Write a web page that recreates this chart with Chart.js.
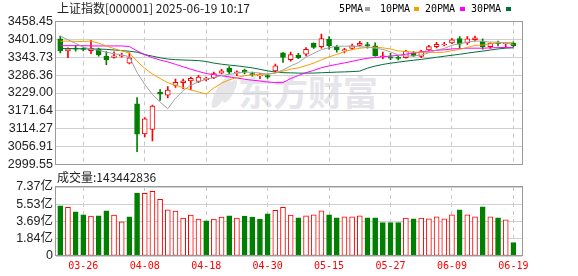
<!DOCTYPE html>
<html><head><meta charset="utf-8">
<script src="https://cdn.jsdelivr.net/npm/chart.js@4.4.1/dist/chart.umd.min.js"></script>
<style>
html,body{margin:0;padding:0;background:#fff;}
#wrap{position:relative;width:578px;height:276px;overflow:hidden;background:#fff;}
canvas{position:absolute;left:0;z-index:2;}
#c1{top:0;}
#c2{top:175px;}
.t{position:absolute;white-space:nowrap;z-index:3;}
.cn{font-family:"Noto Sans CJK SC",sans-serif;font-size:12px;line-height:14px;color:#222;}
.lg{font-family:"DejaVu Sans Mono",monospace;font-size:10px;line-height:12px;color:#000;}
.sq{position:absolute;width:5px;height:4px;z-index:3;}
.wm{position:absolute;z-index:1;color:#e6e6ea;font-family:"Noto Sans CJK SC",sans-serif;font-weight:bold;font-size:35px;line-height:40px;white-space:nowrap;}
.leaf{position:absolute;z-index:1;background:#e6e6ea;border-radius:50%;}
</style>
</head>
<body>
<div id="wrap">
  <div class="leaf" style="left:216px;top:74px;width:11px;height:36px;transform:rotate(28deg);"></div>
  <div class="leaf" style="left:226px;top:78px;width:8px;height:26px;transform:rotate(28deg);"></div>
  <div class="wm" style="left:238px;top:71px;">东方财富</div>
  <canvas id="c1" width="578" height="175"></canvas>
  <canvas id="c2" width="578" height="101"></canvas>
  <div class="t cn" style="left:57px;top:1px;">上证指数[000001] 2025-06-19 10:17</div>
  <div class="t lg" style="left:339px;top:3px;">5PMA</div><div class="sq" style="left:365px;top:7px;background:#a0a0a0;"></div>
  <div class="t lg" style="left:380px;top:3px;">10PMA</div><div class="sq" style="left:414px;top:7px;background:#f5a000;"></div>
  <div class="t lg" style="left:425px;top:3px;">20PMA</div><div class="sq" style="left:460px;top:7px;background:#ff00ff;"></div>
  <div class="t lg" style="left:471px;top:3px;">30PMA</div><div class="sq" style="left:506px;top:7px;background:#00703a;"></div>
  <div class="t cn" id="volText" style="left:57px;top:170px;"></div>
</div>
<script>
const dates = ['03-21','03-24','03-25','03-26','03-27','03-28','03-31','04-01','04-02','04-03',
  '04-07','04-08','04-09','04-10','04-11','04-14','04-15','04-16','04-17','04-18',
  '04-21','04-22','04-23','04-24','04-25','04-28','04-29','04-30','05-06','05-07',
  '05-08','05-09','05-12','05-13','05-14','05-15','05-16','05-19','05-20','05-21',
  '05-22','05-23','05-26','05-27','05-28','05-29','05-30','06-03','06-04','06-05',
  '06-06','06-09','06-10','06-11','06-12','06-13','06-16','06-17','06-18','06-19'];
const open = [3403,3365,3373,3369,3365,3370,3347,3343,3347,3325,
  3194,3098,3112,3231,3222,3253,3262,3268,3266,3272,
  3278,3293,3308,3294,3302,3291,3284,3285,3300,3358,
  3336,3351,3354,3388,3378,3401,3376,3364,3372,3382,
  3384,3380,3345,3345,3343,3342,3358,3346,3367,3378,
  3383,3390,3404,3390,3400,3396,3378,3389,3387,3388];
const high = [3412,3374,3381,3375,3398,3373,3362,3361,3357,3358,
  3214,3150,3190,3240,3250,3274,3274,3280,3286,3280,
  3296,3305,3314,3300,3306,3296,3292,3290,3322,3359,
  3360,3356,3375,3390,3418,3410,3382,3372,3386,3395,
  3392,3390,3360,3356,3347,3366,3362,3366,3382,3392,
  3392,3404,3410,3410,3412,3403,3390,3396,3389,3393];
const low = [3358,3342,3363,3364,3355,3347,3320,3341,3344,3322,
  3041,3088,3075,3205,3213,3247,3243,3239,3262,3268,
  3275,3290,3291,3285,3290,3283,3275,3276,3296,3327,
  3331,3339,3348,3372,3373,3370,3360,3358,3368,3380,
  3373,3347,3339,3336,3335,3341,3346,3342,3364,3374,
  3380,3387,3374,3385,3395,3370,3372,3380,3375,3378];
const close = [3365,3370,3369.9,3368.7,3373,3351,3336,3348,3350,3342,
  3097,3146,3187,3225,3238,3263,3268,3276,3280,3277,
  3291,3300,3296,3297,3296,3288,3287,3280,3316,3343,
  3352,3342,3369,3375,3404,3381,3367,3368,3380,3388,
  3380,3348,3347,3341,3340,3363,3348,3362,3378,3385,
  3386,3400,3386,3403,3406,3378,3388,3387,3389,3381];
const prevClose = 3408.95;
const ma5 = [3411.3,3400.0,3388.1,3376.5,3369.3,3366.5,3359.7,3355.3,3351.6,3345.4,
  3294.6,3256.6,3224.4,3199.4,3178.6,3211.8,3236.2,3254.0,3265.0,3272.8,
  3278.4,3284.8,3288.8,3292.2,3296.0,3295.4,3292.8,3289.6,3293.4,3302.8,
  3315.6,3326.6,3344.4,3356.2,3368.4,3374.2,3379.2,3379.0,3380.0,3376.8,
  3376.6,3372.8,3368.6,3360.8,3351.2,3347.8,3347.8,3350.8,3358.2,3367.2,
  3371.8,3382.2,3387.0,3392.0,3396.2,3394.6,3392.2,3392.4,3389.6,3384.6];
const ma10 = [3395.2,3395.6,3394.6,3394.3,3395.8,3389.0,3379.9,3371.7,3364.1,3357.4,
  3330.6,3308.2,3289.9,3275.5,3262.0,3253.2,3246.4,3239.2,3232.2,3225.7,
  3245.1,3260.5,3271.4,3278.6,3284.4,3286.9,3288.8,3289.2,3292.8,3299.4,
  3305.5,3309.7,3317.0,3324.8,3335.6,3344.9,3352.9,3361.7,3368.1,3372.6,
  3375.4,3376.0,3373.8,3370.4,3364.0,3362.2,3360.3,3359.7,3359.5,3359.2,
  3359.8,3365.0,3368.9,3375.1,3381.7,3383.2,3387.2,3389.7,3390.8,3390.4];
const ma20 = [3381,3381,3381,3381,3380,3380,3380,3380,3380,3378,
  3364,3352,3342.3,3334.9,3328.9,3321,3313.1,3305.5,3298.1,3291.5,
  3287.8,3284.3,3280.6,3277,3273.2,3270,3267.6,3264.2,3262.5,3262.6,
  3275.3,3285.1,3294.2,3301.7,3310,3315.9,3320.9,3325.5,3330.5,3336,
  3340.5,3342.9,3345.4,3347.6,3349.8,3353.6,3356.6,3360.7,3363.8,3365.9,
  3367.6,3370.5,3371.4,3372.8,3372.9,3372.7,3373.8,3374.7,3375.2,3374.8];
const ma30 = [3372,3372,3371,3371,3370,3370,3369,3367,3365,3363,
  3360,3352.5,3347.2,3342.1,3338,3336,3335,3334,3333,3330,
  3325,3321.4,3318.6,3316.1,3313,3309.7,3305,3300,3296.4,3294.2,
  3293.7,3292.8,3292.8,3293,3294,3295,3296,3296.7,3297.7,3299.2,
  3308.7,3315.4,3320.7,3324.6,3328,3331.3,3334,3336.9,3340.1,3343.7,
  3346.9,3350.2,3353.2,3356.8,3360.4,3363.4,3366.8,3370.4,3372.8,3374.1];
// volume in 亿 (1e8 shares)
const volume = [5.35,5.21,4.71,4.39,4.26,4.29,4.82,4.36,3.65,4.18,
  6.73,6.70,6.91,6.06,4.93,4.79,4.04,4.36,3.94,3.76,
  3.94,4.15,4.29,4.04,4.26,4.15,3.94,4.50,4.89,5.21,
  4.36,4.07,4.29,4.39,4.82,4.39,4.07,4.18,4.18,4.29,
  4.07,4.07,3.57,3.57,3.57,4.04,3.97,4.04,3.97,4.18,
  3.97,4.39,4.93,4.39,4.18,5.24,4.18,4.07,3.86,1.43442836];
const priceTicks = [2999.55,3056.91,3114.27,3171.64,3229.00,3286.36,3343.73,3401.09,3458.45];
const volTicks = [0,1.8425,3.685,5.5275,7.37];
const volTickLabels = ['0','1.84亿','3.69亿','5.53亿','7.37亿'];
const dateTickIdx = [3,11,19,27,35,43,51,59];

const RED = '#ff0000', GREEN = '#007f00';
const X_MIN = -0.555, X_MAX = 60.12;
const idx = dates.map((d, i) => i);
const candleUp = idx.map(i => close[i] >= open[i]);
const volUp = idx.map(i => close[i] >= (i === 0 ? prevClose : close[i - 1]));

document.getElementById('volText').textContent = '成交量:' + Math.round(volume[volume.length - 1] * 1e8);

const boxPlugin = {
  id: 'box',
  afterDraw(chart) {
    const {ctx, chartArea: a} = chart;
    ctx.save();
    ctx.strokeStyle = '#9a9a9a';
    ctx.lineWidth = 1;
    const x0 = Math.round(a.left) - 0.5, x1 = Math.round(a.right) + 0.5;
    const y0 = Math.round(a.top) - 0.5, y1 = Math.round(a.bottom) - 0.5;
    ctx.strokeRect(x0, y0, x1 - x0, y1 - y0);
    ctx.restore();
  }
};

const tickFont = {family: 'Liberation Sans, "Noto Sans CJK SC", sans-serif', size: 12.5};

function xScale(showLabels) {
  return {
    type: 'linear', min: X_MIN, max: X_MAX, bounds: 'data', offset: false,
    afterBuildTicks: s => { s.ticks = dateTickIdx.map(v => ({value: v})); },
    afterFit: s => { if (showLabels) s.height = 20; },
    ticks: showLabels ? {
      display: true, autoSkip: false, maxRotation: 0, padding: 4, color: '#ff0000',
      font: {family: '"DejaVu Sans Mono", monospace', size: 10},
      callback: v => dates[v]
    } : {display: false},
    grid: {color: '#c8c8c8', drawTicks: false, offset: false, lineWidth: 1},
    border: {display: false, dash: [4, 4]}
  };
}

new Chart(document.getElementById('c1'), {
  type: 'bar',
  data: {
    datasets: [
      {type: 'line', label: '5PMA', data: idx.map(i => ({x: i, y: ma5[i]})), borderColor: '#a0a0a0', borderWidth: 1, pointRadius: 0, tension: 0, order: 0},
      {type: 'line', label: '10PMA', data: idx.map(i => ({x: i, y: ma10[i]})), borderColor: '#f5a000', borderWidth: 1, pointRadius: 0, tension: 0, order: 0},
      {type: 'line', label: '20PMA', data: idx.map(i => ({x: i, y: ma20[i]})), borderColor: '#ff00ff', borderWidth: 1, pointRadius: 0, tension: 0, order: 0},
      {type: 'line', label: '30PMA', data: idx.map(i => ({x: i, y: ma30[i]})), borderColor: '#00703a', borderWidth: 1, pointRadius: 0, tension: 0, order: 0},
      {label: 'body', data: idx.map(i => ({x: i, y: [open[i], close[i]]})),
        backgroundColor: idx.map(i => candleUp[i] ? '#ffffff' : GREEN),
        borderColor: idx.map(i => candleUp[i] ? RED : GREEN),
        borderWidth: 1, borderSkipped: false, barThickness: 5, minBarLength: 1, grouped: false, order: 1},
      {label: 'wick', data: idx.map(i => ({x: i, y: [low[i], high[i]]})),
        backgroundColor: idx.map(i => candleUp[i] ? RED : GREEN),
        borderWidth: 0, barThickness: 1, grouped: false, order: 2}
    ]
  },
  options: {
    responsive: false, animation: false, devicePixelRatio: 1,
    layout: {padding: {left: 0, right: 56, top: 21.5, bottom: 9}},
    plugins: {legend: {display: false}, tooltip: {enabled: false}},
    scales: {
      x: xScale(false),
      y: {
        min: 2999.55, max: 3458.45, bounds: 'data',
        afterBuildTicks: s => { s.ticks = priceTicks.map(v => ({value: v})); },
        afterFit: s => { s.width = 56; },
        ticks: {padding: 3, autoSkip: false, color: '#222', font: tickFont, callback: v => Number(v).toFixed(2)},
        grid: {color: '#d0d0d0', drawTicks: false},
        border: {display: false}
      }
    }
  },
  plugins: [boxPlugin]
});

new Chart(document.getElementById('c2'), {
  type: 'bar',
  data: {
    datasets: [{
      label: '成交量', data: idx.map(i => ({x: i, y: volume[i]})),
      backgroundColor: idx.map(i => volUp[i] ? '#ffffff' : GREEN),
      borderColor: idx.map(i => volUp[i] ? RED : GREEN),
      borderWidth: 1, borderSkipped: false, barThickness: 5, grouped: false
    }]
  },
  options: {
    responsive: false, animation: false, devicePixelRatio: 1,
    layout: {padding: {left: 0, right: 56, top: 12, bottom: 0}},
    plugins: {legend: {display: false}, tooltip: {enabled: false}},
    scales: {
      x: xScale(true),
      y: {
        min: 0, max: 7.37, bounds: 'data',
        afterBuildTicks: s => { s.ticks = volTicks.map(v => ({value: v})); },
        afterFit: s => { s.width = 56; },
        ticks: {padding: 3, autoSkip: false, color: '#222', font: tickFont, callback: (v, i) => volTickLabels[i]},
        grid: {color: '#d0d0d0', drawTicks: false},
        border: {display: false}
      }
    }
  },
  plugins: [boxPlugin]
});
</script>
</body></html>
